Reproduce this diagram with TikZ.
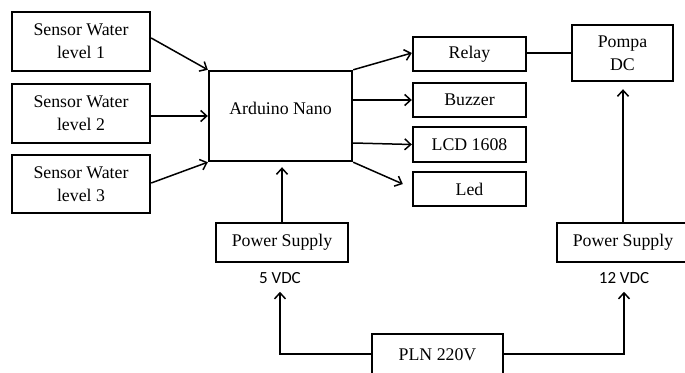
\documentclass[tikz,border=0pt]{standalone}
\usepackage{fontspec}
\setmainfont{Liberation Serif}
\newfontfamily\labelfont{Carlito}
\usetikzlibrary{arrows.meta,calc}
\begin{document}
\begin{tikzpicture}[x=1pt,y=-1pt,
  blk/.style={draw,line width=2.4pt,inner sep=0pt,align=center,font=\fontsize{17.8}{23}\selectfont},
  con/.style={line width=1.5pt},
  arr/.style={con,-{Straight Barb[length=6pt,width=11pt,line width=1.5pt]}},
  vlab/.style={font=\labelfont\fontsize{17}{20}\selectfont,inner sep=0pt}]
\useasboundingbox (0,0) rectangle (685,372);
\clip (0,0) rectangle (685,372);
% sensors
\node[blk,minimum width=138pt,minimum height=59pt] (s1) at (81,41.5) {Sensor Water\\level 1};
\node[blk,minimum width=138pt,minimum height=59pt] (s2) at (81,113.5) {Sensor Water\\level 2};
\node[blk,minimum width=138pt,minimum height=58pt] (s3) at (81,184) {Sensor Water\\level 3};
% arduino
\node[blk,minimum width=143pt,minimum height=90pt] (ard) at (280.5,116) {};
\node[font=\fontsize{17.8}{23}\selectfont,inner sep=0pt] (ardt) at (280.5,108) {Arduino Nano};
% outputs
\node[blk,minimum width=113pt,minimum height=34pt] (relay) at (469.5,54) {Relay};
\node[blk,minimum width=113pt,minimum height=34pt] (buz) at (469.5,100) {Buzzer};
\node[blk,minimum width=113pt,minimum height=35pt] (lcd) at (469.5,144.5) {LCD 1608};
\node[blk,minimum width=113pt,minimum height=34pt] (led) at (469.5,189) {Led};
\node[blk,minimum width=101pt,minimum height=56pt] (pompa) at (622.5,53) {Pompa\\DC};
% power
\node[blk,minimum width=132pt,minimum height=39pt] (psl) at (282,242.5) {Power Supply};
\node[blk,minimum width=132pt,minimum height=39pt] (psr) at (623,242.5) {Power Supply};
\node[vlab] (v5) at (280,278) {5 VDC};
\node[vlab] (v12) at (624,278) {12 VDC};
\node[blk,minimum width=131pt,minimum height=42pt] (pln) at (437.5,355) {PLN 220V};
% connectors
\draw[arr] ($(s1.east)+(0,-3.5)$) -- (ard.north west);
\draw[arr] (s2.east|-ard.west) -- (ard.west);
\draw[arr] ($(s3.east)+(0,-1)$) -- (ard.south west);
\draw[arr] (ard.north east) -- ($(relay.west)+(0,-1)$);
\draw[arr] (ard.east|-buz.west) -- (buz.west);
\draw[arr] ($(ard.east|-lcd.west)+(0,-1.5)$) -- (lcd.west);
\draw[arr] (ard.south east) -- ($(led.west)+(-9,-5)$);
\draw[con] ($(relay.east)+(0,-1)$) -- (pompa.west|-0,53);
\draw[arr] (psl.north) -- ($(ard.south)+(1.5,5)$);
\draw[arr] (psr.north) -- ($(pompa.south)+(0.5,7)$);
\draw[arr] (pln.west|-0,354) -| ($(v5.south)+(0,8)$);
\draw[arr] (pln.east|-0,354) -| ($(v12.south)+(0,8)$);
\end{tikzpicture}
\end{document}
